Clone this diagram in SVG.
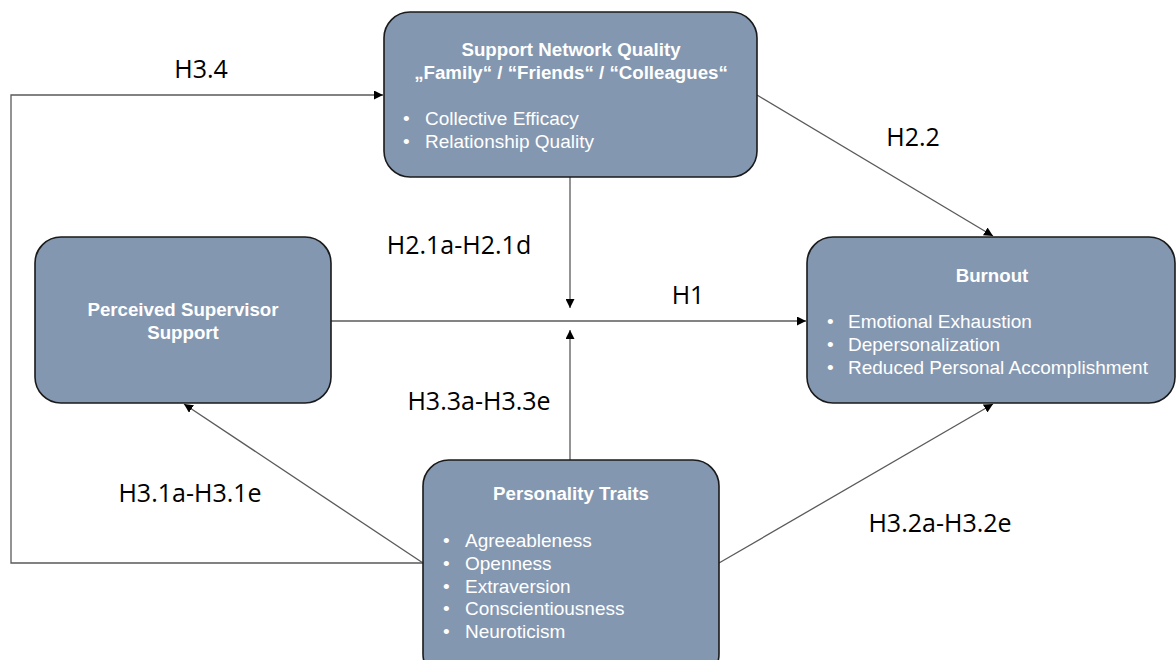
<svg xmlns="http://www.w3.org/2000/svg" width="1176" height="660" viewBox="0 0 1176 660">
<style>
.node{fill:#8497B0;stroke:#1a1a1a;stroke-width:1.6}
.t{font-family:"Liberation Sans",Arial,sans-serif;fill:#ffffff;font-size:19px}
.b{font-weight:bold;font-size:18.7px}
.c{stroke:#5a5a5a;stroke-width:1.3;fill:none}
.lab{font-family:"Open Sans","Liberation Sans",sans-serif;font-size:25px;fill:#000000}
</style>
<defs>
<marker id="ah" viewBox="0 0 10 10" refX="10" refY="5" markerWidth="9" markerHeight="9" markerUnits="userSpaceOnUse" orient="auto">
<path d="M0,0 L10,5 L0,10 z" fill="#000"/>
</marker>
</defs>
<rect width="1176" height="660" fill="#ffffff"/>
<g id="connectors">
<polyline class="c" points="423,563 11,563 11,95 383,95" marker-end="url(#ah)"/>
<line class="c" x1="423" y1="563" x2="184" y2="404" marker-end="url(#ah)"/>
<line class="c" x1="719" y1="563" x2="993" y2="404" marker-end="url(#ah)"/>
<line class="c" x1="570" y1="460" x2="570" y2="330" marker-end="url(#ah)"/>
<line class="c" x1="570" y1="177" x2="570" y2="308" marker-end="url(#ah)"/>
<line class="c" x1="331" y1="321" x2="806" y2="321" marker-end="url(#ah)"/>
<line class="c" x1="757" y1="95" x2="993" y2="236" marker-end="url(#ah)"/>
</g>
<g id="labels">
<text class="lab" x="201" y="78" text-anchor="middle">H3.4</text>
<text class="lab" x="913" y="146" text-anchor="middle">H2.2</text>
<text class="lab" x="459" y="254" text-anchor="middle">H2.1a-H2.1d</text>
<text class="lab" x="688" y="304" text-anchor="middle">H1</text>
<text class="lab" x="479" y="410" text-anchor="middle">H3.3a-H3.3e</text>
<text class="lab" x="190" y="502" text-anchor="middle">H3.1a-H3.1e</text>
<text class="lab" x="940" y="532" text-anchor="middle">H3.2a-H3.2e</text>
</g>
<g id="support-network">
<rect class="node" x="384" y="12" width="373" height="165" rx="26"/>
<text class="t b" x="571" y="56" text-anchor="middle">Support Network Quality</text>
<text class="t b" x="571" y="79" text-anchor="middle">„Family“ / “Friends“ / “Colleagues“</text>
<text class="t" x="403" y="125">•</text><text class="t" x="425" y="125">Collective Efficacy</text>
<text class="t" x="403" y="148">•</text><text class="t" x="425" y="148">Relationship Quality</text>
</g>
<g id="supervisor-support">
<rect class="node" x="35" y="237" width="296" height="166" rx="26"/>
<text class="t b" x="183" y="316" text-anchor="middle">Perceived Supervisor</text>
<text class="t b" x="183" y="339" text-anchor="middle">Support</text>
</g>
<g id="burnout">
<rect class="node" x="807" y="237" width="368" height="166" rx="26"/>
<text class="t b" x="992" y="282" text-anchor="middle">Burnout</text>
<text class="t" x="827" y="328">•</text><text class="t" x="848" y="328">Emotional Exhaustion</text>
<text class="t" x="827" y="351">•</text><text class="t" x="848" y="351">Depersonalization</text>
<text class="t" x="827" y="374">•</text><text class="t" x="848" y="374">Reduced Personal Accomplishment</text>
</g>
<g id="personality-traits">
<rect class="node" x="423" y="460" width="296" height="220" rx="26"/>
<text class="t b" x="571" y="500" text-anchor="middle">Personality Traits</text>
<text class="t" x="443" y="547">•</text><text class="t" x="465" y="547">Agreeableness</text>
<text class="t" x="443" y="570">•</text><text class="t" x="465" y="570">Openness</text>
<text class="t" x="443" y="593">•</text><text class="t" x="465" y="593">Extraversion</text>
<text class="t" x="443" y="615">•</text><text class="t" x="465" y="615">Conscientiousness</text>
<text class="t" x="443" y="638">•</text><text class="t" x="465" y="638">Neuroticism</text>
</g>
</svg>
